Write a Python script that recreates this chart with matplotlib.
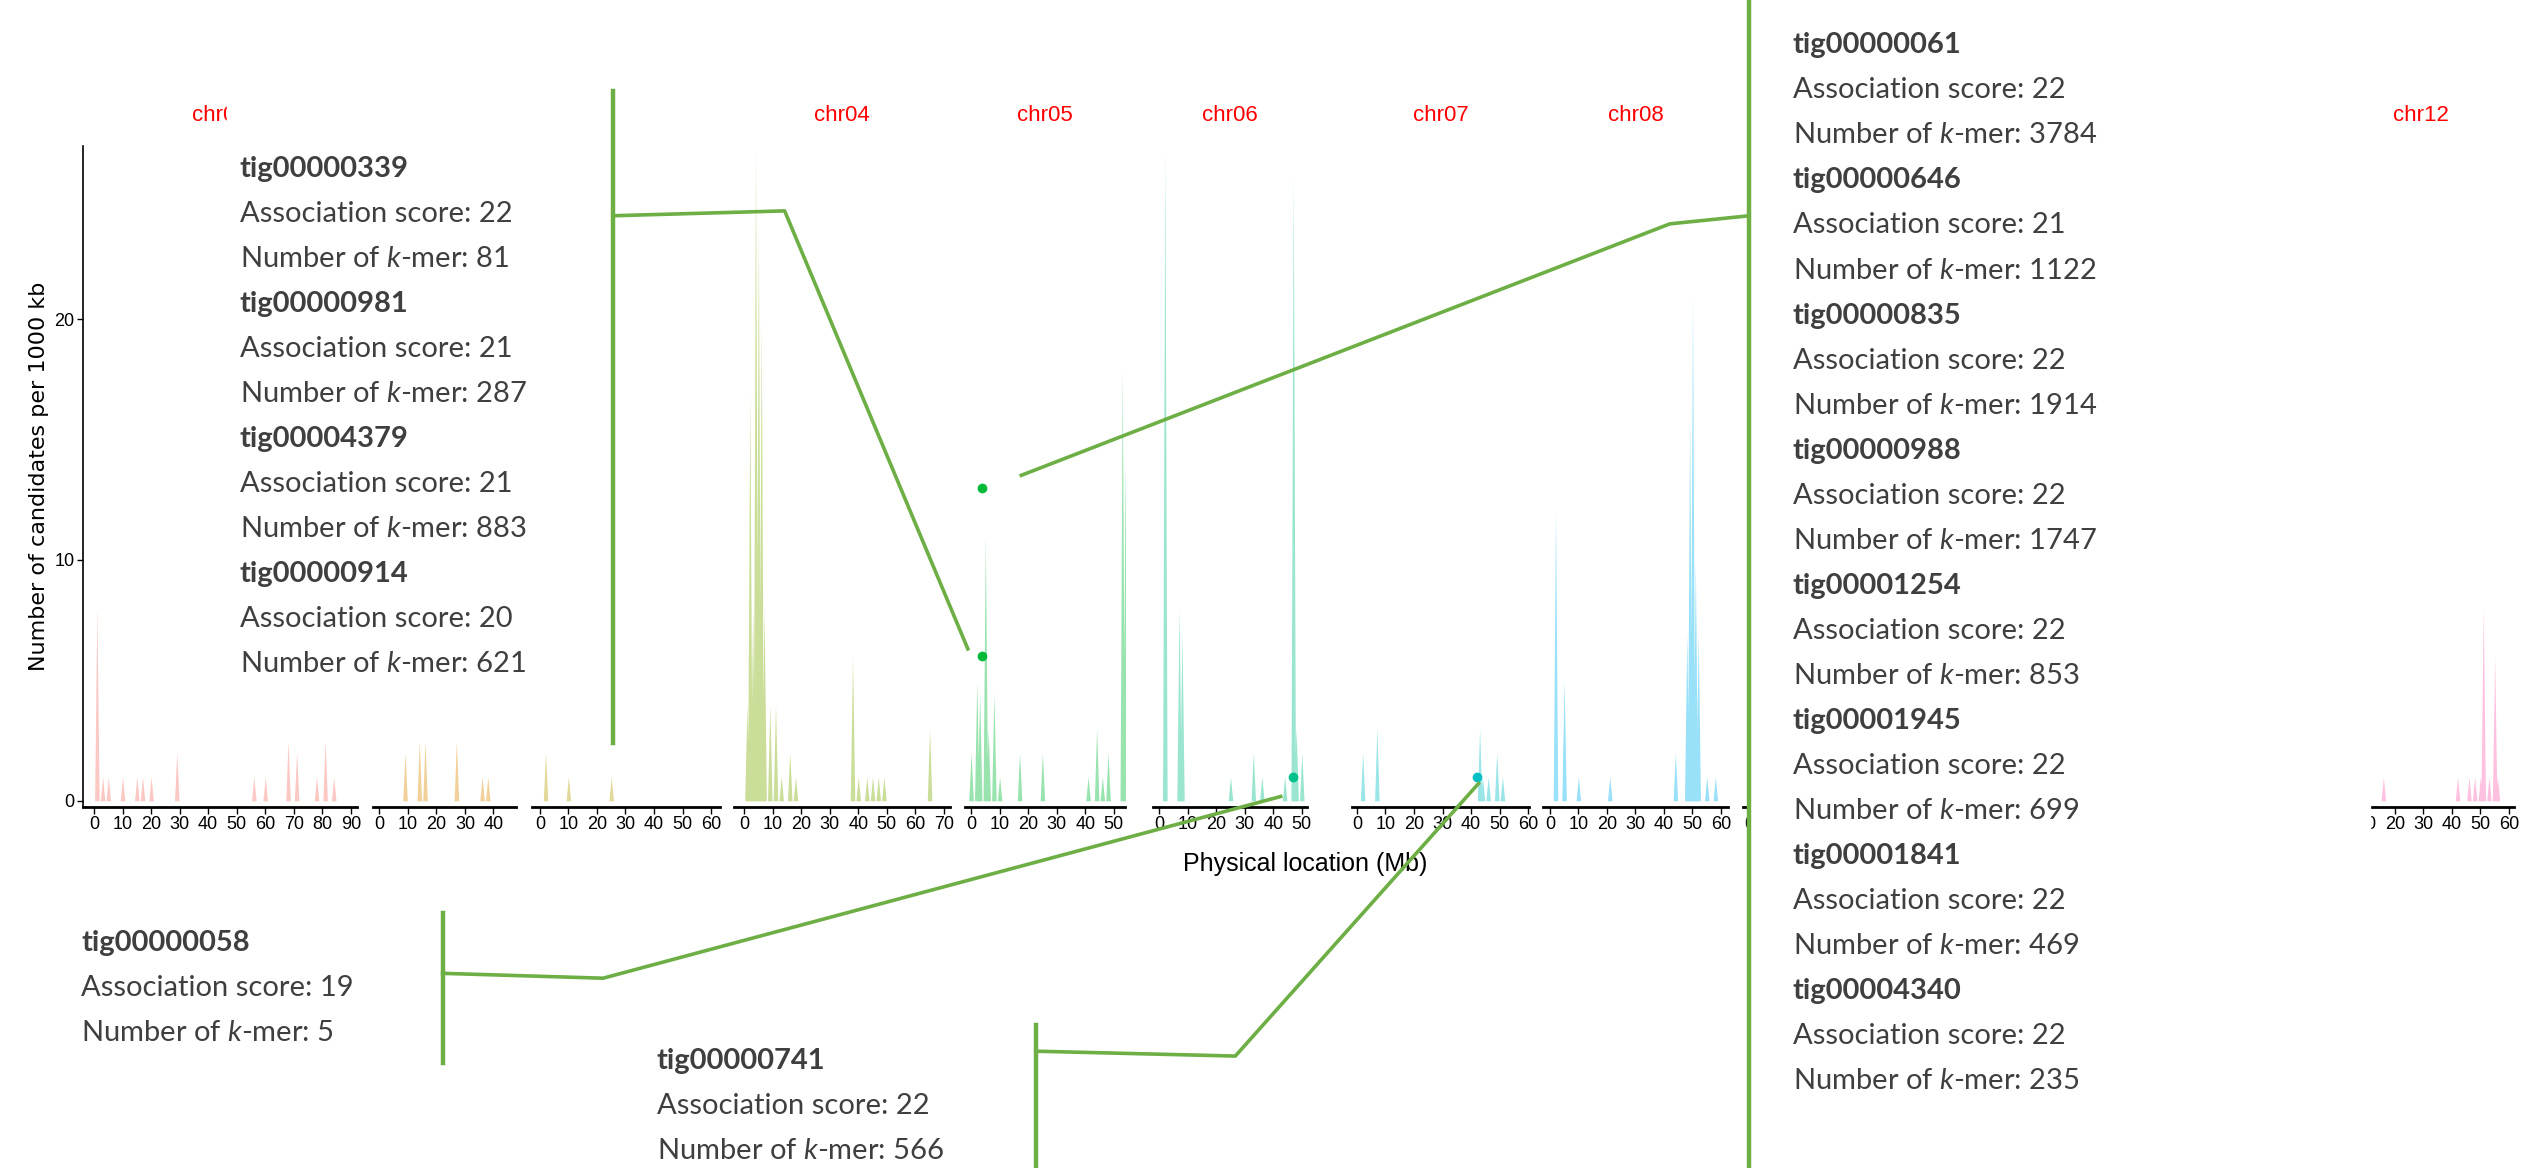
import numpy as np
import matplotlib.pyplot as plt

plt.rcParams['mathtext.fontset'] = 'custom'
plt.rcParams['mathtext.rm'] = 'Lato'
plt.rcParams['mathtext.it'] = 'Lato:italic'

W, H = 2529, 1168
S = W / 1560.0  # layout measured on a 1560x720 grid

chroms = ['chr01', 'chr02', 'chr03', 'chr04', 'chr05', 'chr06',
          'chr07', 'chr08', 'chr09', 'chr10', 'chr11', 'chr12']
colors = ['#F8766D', '#DE8C00', '#B79F00', '#7CAE00', '#00BA38', '#00C08B',
          '#00BFC4', '#00B4F0', '#619CFF', '#C77CFF', '#F564E3', '#FF64B0']

# peaks per chromosome: (position Mb, candidates per 1000 kb)
peaks = {
    'chr01': [(1, 8), (3, 1), (5, 1), (10, 1), (15, 1), (17, 1), (20, 1), (29, 2),
              (56, 1), (60, 1), (68, 2.5), (71, 2), (78, 1), (81, 2.5), (84, 1)],
    'chr02': [(9, 2), (14, 2.5), (16, 2.5), (27, 2.5), (36, 1), (38, 1)],
    'chr03': [(2, 2), (10, 1), (25, 1)],
    'chr04': [(1, 4), (2, 17), (3, 8), (4, 27), (5, 24), (6, 20), (7, 8), (9, 4),
              (11, 4), (13, 1), (16, 2), (18, 1), (38, 6), (40, 1), (43, 1),
              (45, 1), (47, 1), (49, 1), (65, 3)],
    'chr05': [(0, 2), (2, 5), (3, 4.5), (5, 11), (6, 3), (8, 4.5), (10, 1),
              (17, 2), (25, 2), (41, 1), (44, 3), (46, 1), (48, 2), (53, 18), (54, 14)],
    'chr06': [(2, 27), (7, 8), (8, 7), (25, 1), (33, 2), (36, 1), (44, 1),
              (47, 26), (48, 3), (50, 2)],
    'chr07': [(2, 2), (7, 3), (43, 3), (44, 1), (46, 1), (49, 2), (51, 1)],
    'chr08': [(2, 12), (5, 5), (10, 1), (21, 1), (44, 2), (48, 7), (49, 16),
              (50, 21), (51, 10), (52, 7), (55, 1), (58, 1)],
    'chr09': [(1, 2)],
    'chr10': [(5, 1)],
    'chr11': [(5, 1)],
    'chr12': [(16, 1), (42, 1), (46, 1), (48, 1), (50, 1), (51, 8), (53, 1), (55, 6), (56, 1)],
}

# highlighted candidate points (chromosome, Mb, value)
pt_chr = ['chr05', 'chr05', 'chr06', 'chr07']
pt_pos = [4, 4, 47, 42]
pt_val = [13, 6, 1, 1]

# panel extents on the 1560 grid: axis start, axis end, zero position
panels = {
    'chr01': (51, 220, 58), 'chr02': (230, 318, 234), 'chr03': (328, 444, 333),
    'chr04': (453, 586, 459), 'chr05': (595, 694, 599), 'chr06': (711, 806, 715),
    'chr07': (834, 943, 837), 'chr08': (952, 1066, 956), 'chr09': (1075, 1180, 1079),
    'chr10': (1190, 1300, 1194), 'chr11': (1310, 1420, 1314), 'chr12': (1436, 1551, 1442),
}
PX_PER_MB = 1.76
Y_TOP, Y_BOT = 90, 497.5

fig = plt.figure(figsize=(W / 100, H / 100), dpi=100)
tickfont = ['Liberation Sans Narrow', 'Liberation Sans']

for i, ch in enumerate(chroms):
    xs, xe, x0 = panels[ch]
    ax = fig.add_axes([xs * S / W, 1 - Y_BOT * S / H, (xe - xs) * S / W, (Y_BOT - Y_TOP) * S / H])
    xlo, xhi = (xs - x0) / PX_PER_MB, (xe - x0) / PX_PER_MB
    px, py = [], []
    for p, h in peaks[ch]:
        px += [p - 0.8, p, p + 0.8]
        py += [0, h, 0]
    ax.fill_between(px, 0, py, color=colors[i], alpha=0.4, lw=0)
    for c, p, v in zip(pt_chr, pt_pos, pt_val):
        if c == ch:
            ax.plot(p, v, 'o', color=colors[i], ms=6, zorder=5)
    ax.set_xlim(xlo, xhi)
    ax.set_ylim(-0.24, 27.2)
    ax.set_xticks(np.arange(0, xhi + 0.1, 10))
    ax.tick_params(axis='x', labelsize=13, length=5, width=1, pad=2)
    for lab in ax.get_xticklabels():
        lab.set_family(tickfont)
    for s in ['top', 'right']:
        ax.spines[s].set_visible(False)
    ax.spines['bottom'].set_linewidth(2)
    if i == 0:
        ax.set_yticks([0, 10, 20])
        ax.tick_params(axis='y', labelsize=13, length=4, width=1, pad=2)
        for lab in ax.get_yticklabels():
            lab.set_family(tickfont)
        ax.spines['left'].set_linewidth(1.2)
        ax.set_ylabel('Number of candidates per 1000 kb', fontsize=16, labelpad=4)
    else:
        ax.set_yticks([])
        ax.spines['left'].set_visible(False)
    ax.set_title(ch, color='red', fontsize=16, family=tickfont, pad=18)

fig.text(805 * S / W, 1 - 533 * S / H, 'Physical location (Mb)', fontsize=18,
         family=tickfont, ha='center', va='center')

# overlay for callouts
ov = fig.add_axes([0, 0, 1, 1], zorder=10)
ov.set_xlim(0, 1560)
ov.set_ylim(720, 0)
ov.axis('off')
ov.patch.set_alpha(0)

GREEN = '#6DAE45'
TXT = '#3F3F3F'

def callout(names, scores, kmers, tx, ty, box, vline, leader):
    bx0, by0, bx1, by1 = box
    ov.fill([bx0, bx1, bx1, bx0], [by0, by0, by1, by1], color='white', zorder=1)
    ov.plot([vline[0], vline[0]], [vline[1], vline[2]], color=GREEN, lw=3.2, zorder=3)
    ov.plot(leader[0], leader[1], color=GREEN, lw=2.6, zorder=3)
    y = ty
    step = 27.75
    for n, s, k in zip(names, scores, kmers):
        ov.text(tx, y, n, fontsize=21, family='Lato', weight='bold', color=TXT, va='center', zorder=4)
        y += step
        ov.text(tx, y, 'Association score: %d' % s, fontsize=21, family='Lato', color=TXT, va='center', zorder=4)
        y += step
        ov.text(tx, y, r'Number of $\mathit{k}$-mer: %d' % k, fontsize=21, family='Lato', color=TXT, va='center', zorder=4)
        y += step

# white strip over the hidden panel titles next to the first callout
ov.fill([377, 452, 452, 377], [56, 56, 88, 88], color='white', zorder=1)

callout(['tig00000339', 'tig00000981', 'tig00004379', 'tig00000914'],
        [22, 21, 21, 20], [81, 287, 883, 621],
        148, 104, (140, 56, 377, 458), (378, 56, 458),
        ([378, 484, 597], [133, 130, 400]))
callout(['tig00000061', 'tig00000646', 'tig00000835', 'tig00000988',
         'tig00001254', 'tig00001945', 'tig00001841', 'tig00004340'],
        [22, 21, 22, 22, 22, 22, 22, 22], [3784, 1122, 1914, 1747, 853, 699, 469, 235],
        1106, 28, (1078, 0, 1462, 720), (1079, 0, 720),
        ([630, 1030, 1079], [293, 138, 133]))
callout(['tig00000058'], [19], [5],
        50, 581, (40, 563, 272, 655), (273, 563, 655),
        ([273, 372, 790], [600, 603, 491]))
callout(['tig00000741'], [22], [566],
        405, 654, (395, 632, 638, 720), (639, 632, 720),
        ([639, 762, 912], [648, 651, 483]))

fig.savefig('out.png', dpi=100)
